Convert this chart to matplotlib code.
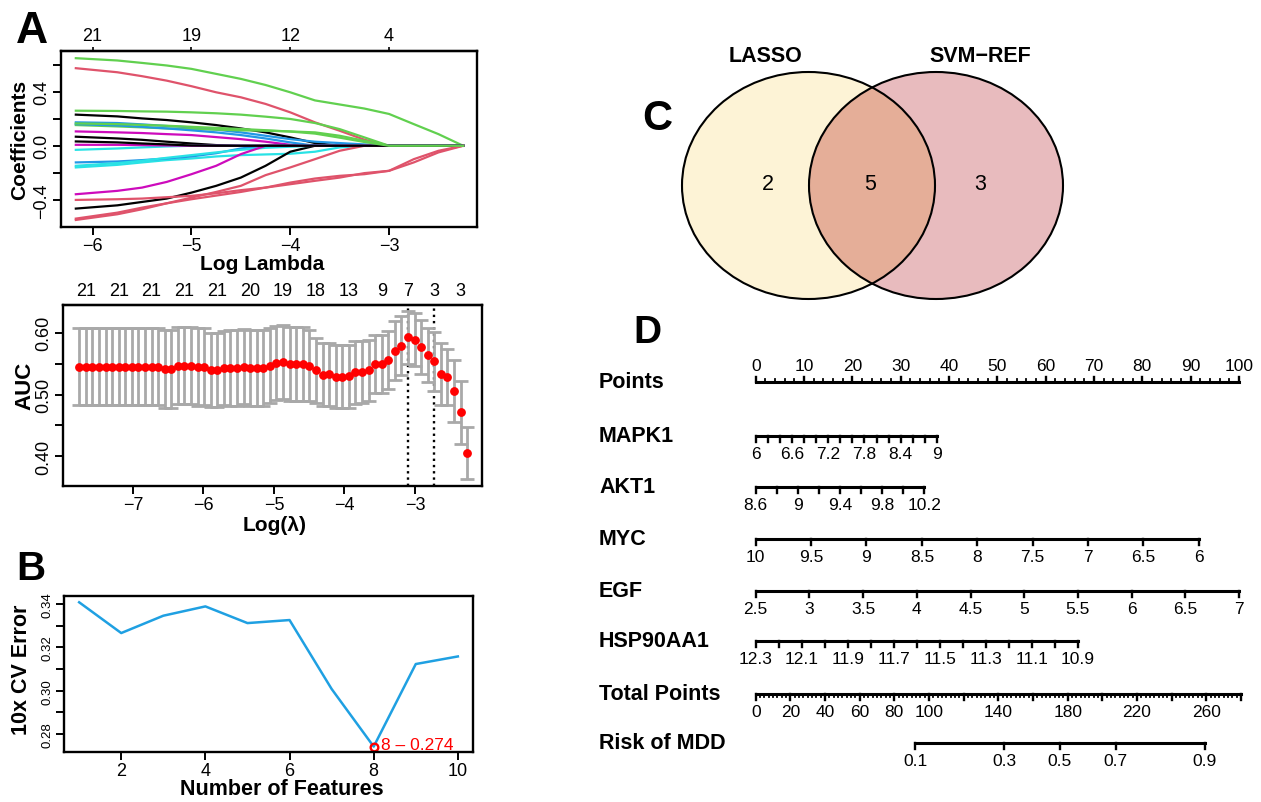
import numpy as np
import matplotlib
matplotlib.use('Agg')
import matplotlib.pyplot as plt
from matplotlib.patches import Ellipse

plt.rcParams.update({'font.family': ['Liberation Sans', 'DejaVu Sans'],
                     'font.size': 12, 'axes.linewidth': 1.6})
NARROW = ['Liberation Sans Narrow', 'Liberation Sans', 'DejaVu Sans']

W, H = 1261, 803
R_PAL = ['black', '#DF536B', '#61D04F', '#2297E6', '#28E2E5', '#CD0BBC']

# ---------------- A (top): LASSO coefficient paths ----------------
lam_grid = [-6.17, -5.75, -5.5, -5.25, -5.0, -4.75, -4.5, -4.25,
            -4.0, -3.75, -3.5, -3.25, -3.0, -2.75, -2.5, -2.25]
coef_paths = [
    [0.230, 0.217, 0.202, 0.190, 0.173, 0.153, 0.128, 0.099, 0.062, 0.020, 0, 0, 0, 0, 0, 0],
    [0.573, 0.543, 0.514, 0.481, 0.440, 0.395, 0.358, 0.309, 0.247, 0.173, 0.111, 0.045, 0, 0, 0, 0],
    [0.647, 0.630, 0.612, 0.593, 0.568, 0.531, 0.494, 0.449, 0.395, 0.335, 0.305, 0.275, 0.235, 0.160, 0.086, 0],
    [0.173, 0.168, 0.158, 0.146, 0.136, 0.119, 0.099, 0.074, 0.049, 0.030, 0.020, 0.010, 0, 0, 0, 0],
    [-0.160, -0.141, -0.123, -0.106, -0.094, -0.079, -0.069, -0.064, -0.059, -0.044, -0.012, 0, 0, 0, 0, 0],
    [0.106, 0.099, 0.094, 0.086, 0.079, 0.064, 0.049, 0.030, 0.007, 0, 0, 0, 0, 0, 0, 0],
    [-0.464, -0.440, -0.415, -0.390, -0.346, -0.296, -0.235, -0.148, -0.044, 0, 0, 0, 0, 0, 0, 0],
    [-0.400, -0.395, -0.390, -0.380, -0.370, -0.351, -0.328, -0.309, -0.284, -0.259, -0.235, -0.202, -0.185, -0.123, -0.049, 0],
    [0.259, 0.257, 0.254, 0.252, 0.247, 0.240, 0.230, 0.215, 0.198, 0.168, 0.123, 0.062, 0, 0, 0, 0],
    [-0.123, -0.116, -0.106, -0.094, -0.079, -0.055, -0.020, 0, 0, 0, 0, 0, 0, 0, 0, 0],
    [-0.148, -0.128, -0.111, -0.089, -0.069, -0.049, -0.030, -0.015, -0.007, 0, 0, 0, 0, 0, 0, 0],
    [-0.358, -0.333, -0.309, -0.267, -0.210, -0.148, -0.062, 0, 0, 0, 0, 0, 0, 0, 0, 0],
    [0.067, 0.054, 0.044, 0.030, 0.017, 0.005, 0, 0, 0, 0, 0, 0, 0, 0, 0, 0],
    [-0.548, -0.506, -0.469, -0.425, -0.383, -0.341, -0.296, -0.217, -0.160, -0.099, -0.037, 0, 0, 0, 0, 0],
    [0.153, 0.143, 0.136, 0.128, 0.123, 0.119, 0.114, 0.111, 0.106, 0.099, 0.074, 0.037, 0, 0, 0, 0],
    [0.160, 0.150, 0.140, 0.128, 0.114, 0.099, 0.079, 0.054, 0.025, 0, 0, 0, 0, 0, 0, 0],
    [-0.030, -0.020, -0.012, -0.005, 0, 0, 0, 0, 0, 0, 0, 0, 0, 0, 0, 0],
    [0.007, 0.007, 0.005, 0.002, 0, 0, 0, 0, 0, 0, 0, 0, 0, 0, 0, 0],
    [0.032, 0.025, 0.017, 0.010, 0.002, 0, 0, 0, 0, 0, 0, 0, 0, 0, 0, 0],
    [-0.538, -0.494, -0.457, -0.425, -0.395, -0.368, -0.341, -0.309, -0.272, -0.242, -0.222, -0.210, -0.185, -0.099, -0.037, 0],
    [0.165, 0.160, 0.154, 0.148, 0.140, 0.132, 0.124, 0.115, 0.105, 0.090, 0.060, 0.028, 0, 0, 0, 0],
]
coef_top_at = [-6, -5, -4, -3]
coef_top_df = ['21', '19', '12', '4']

# ---------------- A (bottom): CV AUC ----------------
lam_cv = np.linspace(-7.76, -2.26, 60)
auc = [0.545, 0.545, 0.545, 0.545, 0.545, 0.545, 0.545, 0.545, 0.545, 0.545,
       0.545, 0.545, 0.545, 0.542, 0.542, 0.547, 0.547, 0.547, 0.545, 0.545,
       0.540, 0.540, 0.543, 0.543, 0.543, 0.545, 0.543, 0.543, 0.543, 0.547,
       0.551, 0.553, 0.549, 0.549, 0.549, 0.547, 0.539, 0.532, 0.533, 0.529,
       0.529, 0.530, 0.536, 0.536, 0.539, 0.549, 0.549, 0.556, 0.571, 0.579,
       0.593, 0.589, 0.577, 0.564, 0.554, 0.533, 0.528, 0.506, 0.471, 0.406]
auc_se = [0.062, 0.062, 0.062, 0.062, 0.062, 0.062, 0.062, 0.062, 0.062, 0.062,
          0.062, 0.062, 0.062, 0.063, 0.063, 0.063, 0.063, 0.063, 0.063, 0.062,
          0.060, 0.060, 0.060, 0.061, 0.061, 0.061, 0.061, 0.061, 0.061, 0.061,
          0.060, 0.060, 0.060, 0.060, 0.060, 0.058, 0.053, 0.051, 0.051, 0.051,
          0.051, 0.051, 0.051, 0.050, 0.050, 0.047, 0.047, 0.047, 0.048, 0.048,
          0.043, 0.043, 0.043, 0.044, 0.048, 0.050, 0.045, 0.050, 0.051, 0.042]
nz_idx = [1, 6, 11, 16, 21, 26, 31, 36, 41, 46, 50, 54, 58]
nz_labels = ['21', '21', '21', '21', '21', '20', '19', '18', '13', '9', '7', '3', '3']
lambda_min_idx, lambda_1se_idx = 50, 54

# ---------------- B: SVM-RFE CV error ----------------
n_features = [1, 2, 3, 4, 5, 6, 7, 8, 9, 10]
cv_error = [0.3408, 0.3266, 0.3346, 0.3389, 0.3312, 0.3326, 0.3008, 0.2742, 0.3123, 0.3158]
best_n, best_err = 8, 0.274

# ---------------- C: Venn ----------------
venn_sets = ['LASSO', 'SVM\u2212REF']
venn_counts = [2, 5, 3]   # LASSO only, both, SVM-REF only

# ---------------- D: nomogram ----------------
nomo_vars = ['MAPK1', 'AKT1', 'MYC', 'EGF', 'HSP90AA1']
nomo_range = [(6.0, 9.0), (8.6, 10.2), (10.0, 6.0), (2.5, 7.0), (12.3, 10.9)]
nomo_max_pts = [37.5, 34.9, 91.7, 100.0, 66.6]
nomo_step = [0.2, 0.2, 0.5, 0.5, 0.1]
nomo_labels = [[6, 6.6, 7.2, 7.8, 8.4, 9],
               [8.6, 9, 9.4, 9.8, 10.2],
               [10, 9.5, 9, 8.5, 8, 7.5, 7, 6.5, 6],
               [2.5, 3, 3.5, 4, 4.5, 5, 5.5, 6, 6.5, 7],
               [12.3, 12.1, 11.9, 11.7, 11.5, 11.3, 11.1, 10.9]]
total_max = 280
total_max_pts = 100.4
total_labels = [0, 20, 40, 60, 80, 100, 140, 180, 220, 260]
risk_ticks = [0.1, 0.3, 0.5, 0.7, 0.9]
risk_mid_total = 175.5      # total points at 50 % risk
risk_logit_per_tp = 0.0263  # logit change per total point

fig = plt.figure(figsize=(W / 100, H / 100), dpi=100)
fig.patch.set_facecolor('white')


def px_axes(x0, y0, x1, y1, **kw):
    return fig.add_axes([x0 / W, 1 - y1 / H, (x1 - x0) / W, (y1 - y0) / H], **kw)


def ftext(x, y, s, **kw):
    return fig.text(x / W, 1 - y / H, s, **kw)


def r_style(ax, fs=13):
    for sp in ax.spines.values():
        sp.set_linewidth(1.7)
    ax.tick_params(direction='out', length=5.5, width=1.4, labelsize=fs, pad=2)


# overlay axes in pixel units (Venn + letters)
axv = px_axes(0, 0, W, H)
axv.set_xlim(0, W); axv.set_ylim(H, 0); axv.axis('off')

# ---- A top
ax1 = px_axes(61, 52, 477, 228)
for i, path in enumerate(coef_paths):
    ax1.plot(lam_grid, path, color=R_PAL[i % 6], lw=1.6)
ax1.set_xlim(-6.32, -2.11); ax1.set_ylim(-0.60, 0.70)
r_style(ax1)
ax1.set_xticks([-6, -5, -4, -3], labels=['\u22126', '\u22125', '\u22124', '\u22123'])
ax1.set_yticks([-0.4, -0.2, 0, 0.2, 0.4, 0.6])
ax1.set_yticklabels(['\u22120.4', '', '0.0', '', '0.4', ''], rotation=90, va='center')
top1 = ax1.secondary_xaxis('top')
top1.set_xticks(coef_top_at, labels=coef_top_df)
top1.tick_params(direction='out', length=3, width=1.2, labelsize=13, pad=2)
ftext(262, 265, 'Log Lambda', ha='center', va='center', fontsize=15, fontweight='bold')
ftext(20, 140, 'Coefficients', ha='center', va='center', rotation=90, fontsize=15, fontweight='bold')

# ---- A bottom
ax2 = px_axes(63, 306, 482, 487)
ax2.errorbar(lam_cv, auc, yerr=auc_se, fmt='none', ecolor='#A9A9A9',
             elinewidth=2.0, capsize=4.8, capthick=2.0, zorder=2)
ax2.plot(lam_cv, auc, 'o', color='red', ms=5.3, zorder=3)
ax2.axvline(lam_cv[lambda_min_idx], color='black', ls=':', lw=1.7, zorder=1)
ax2.axvline(lam_cv[lambda_1se_idx], color='black', ls=':', lw=1.7, zorder=1)
ax2.set_xlim(-7.99, -2.05); ax2.set_ylim(0.352, 0.645)
r_style(ax2)
ax2.set_xticks([-7, -6, -5, -4, -3], labels=['\u22127', '\u22126', '\u22125', '\u22124', '\u22123'])
ax2.set_yticks([0.40, 0.45, 0.50, 0.55, 0.60])
ax2.set_yticklabels(['0.40', '', '0.50', '', '0.60'], rotation=90, va='center')
top2 = ax2.secondary_xaxis('top')
top2.set_xticks([lam_cv[k] for k in nz_idx], labels=nz_labels)
top2.tick_params(length=0, labelsize=13, pad=4)
ftext(275, 526, 'Log(\u03bb)', ha='center', va='center', fontsize=15, fontweight='bold')
ftext(25, 386, 'AUC', ha='center', va='center', rotation=90, fontsize=16, fontweight='bold')

# ---- B
ax3 = px_axes(64, 597, 473, 753)
ax3.plot(n_features, cv_error, color='#1FA0E2', lw=1.8)
ax3.plot([best_n], [best_err], 'o', mfc='none', mec='red', mew=1.7, ms=5.5)
ax3.annotate('8 \u2013 0.274', (best_n, best_err), xytext=(5, 1.5), textcoords='offset points',
             color='red', fontsize=12.5, va='center', ha='left')
ax3.set_xlim(0.64, 10.36); ax3.set_ylim(0.2717, 0.3437)
r_style(ax3)
ax3.set_xticks([2, 4, 6, 8, 10])
ax3.set_yticks([0.28, 0.29, 0.30, 0.31, 0.32, 0.33, 0.34])
ax3.set_yticklabels(['0.28', '', '0.30', '', '0.32', '', '0.34'], rotation=90, va='center',
                    fontsize=9.5, family=NARROW)
ftext(282, 790, 'Number of Features', ha='center', va='center', fontsize=15.5, fontweight='bold')
ftext(22, 670, '10x CV Error', ha='center', va='center', rotation=90, fontsize=15.5, fontweight='bold')

# ---- C: Venn
e_left = Ellipse((808.5, 186.5), 253, 227, fc='#FDF3D6', ec='none')
e_right = Ellipse((936, 186.5), 254, 227, fc='#E8BBBE', ec='none')
axv.add_patch(e_left); axv.add_patch(e_right)
e_both = Ellipse((936, 186.5), 254, 227, fc='#E5AE98', ec='none')
axv.add_patch(e_both); e_both.set_clip_path(e_left)
axv.add_patch(Ellipse((808.5, 186.5), 253, 227, fc='none', ec='black', lw=1.5))
axv.add_patch(Ellipse((936, 186.5), 254, 227, fc='none', ec='black', lw=1.5))
axv.text(765, 57, venn_sets[0], ha='center', va='center', fontsize=15.5, fontweight='bold')
axv.text(980, 57, venn_sets[1], ha='center', va='center', fontsize=15.5, fontweight='bold')
for xc, n in zip([768, 870, 980], venn_counts):
    axv.text(xc, 184, str(n), ha='center', va='center', fontsize=15.5)

# ---- panel letters
for xc, yb, s, fs in [(32, 43, 'A', 32), (31, 580, 'B', 29), (657, 130, 'C', 30), (647, 343, 'D', 28)]:
    axv.text(xc, yb, s, ha='center', va='baseline', fontsize=fs, fontweight='bold')

# ---- D: nomogram (x in points units, y in pixel rows)
PX0, PX_PER_PT = 755.7, 4.833
ax4 = px_axes(590, 320, W, H)
ax4.set_xlim((590 - PX0) / PX_PER_PT, (W - PX0) / PX_PER_PT)
ax4.set_ylim(H, 320)
ax4.axis('off')
row_y = [383, 437, 488, 540, 592, 642, 695, 744]
lab_x = (599 - PX0) / PX_PER_PT
LW = 2.2


def scale(y, pos, ticks, lab_pos, labels, down=True, tl=5.5, minor=(), mtl=3):
    s = 1 if down else -1
    ax4.plot([min(pos), max(pos)], [y, y], color='black', lw=LW, solid_capstyle='projecting')
    for p in ticks:
        ax4.plot([p, p], [y, y + s * tl], color='black', lw=1.7)
    for p in minor:
        ax4.plot([p, p], [y, y + s * mtl], color='black', lw=1.3)
    for p, t in zip(lab_pos, labels):
        ax4.text(p, y + s * (17.5 if down else 16.5), t, ha='center', va='center',
                 fontsize=12.5, family=NARROW)


names = ['Points'] + nomo_vars + ['Total Points', 'Risk of MDD']
for y, nm in zip(row_y, names):
    ax4.text(lab_x, y, nm, ha='left', va='center', fontsize=15.5, fontweight='bold')

pts_major = np.arange(0, 101, 10)
scale(row_y[0], [0, 100], pts_major, pts_major, [str(v) for v in pts_major],
      down=False, tl=5, minor=np.arange(0, 101, 2), mtl=3)

for i in range(len(nomo_vars)):
    lo, hi = nomo_range[i]
    n = int(round(abs(hi - lo) / nomo_step[i])) + 1
    vals = np.linspace(lo, hi, n)
    to_pts = lambda v, lo=lo, hi=hi, m=nomo_max_pts[i]: (np.asarray(v) - lo) / (hi - lo) * m
    labs = nomo_labels[i]
    scale(row_y[i + 1], to_pts([lo, hi]), to_pts(vals), to_pts(labs), [f'{v:g}' for v in labs])

tp_to_pts = lambda v: np.asarray(v, dtype=float) * total_max_pts / total_max
scale(row_y[6], tp_to_pts([0, total_max]), tp_to_pts(np.arange(0, total_max + 1, 20)),
      tp_to_pts(total_labels), [str(v) for v in total_labels],
      minor=tp_to_pts(np.arange(0, total_max + 1, 2.5)), mtl=3)

rk = np.asarray(risk_ticks)
risk_tp = risk_mid_total + np.log(rk / (1 - rk)) / risk_logit_per_tp
scale(row_y[7], tp_to_pts(risk_tp[[0, -1]]), tp_to_pts(risk_tp), tp_to_pts(risk_tp),
      [f'{v:g}' for v in risk_ticks])

fig.savefig('out.png', dpi=100)
